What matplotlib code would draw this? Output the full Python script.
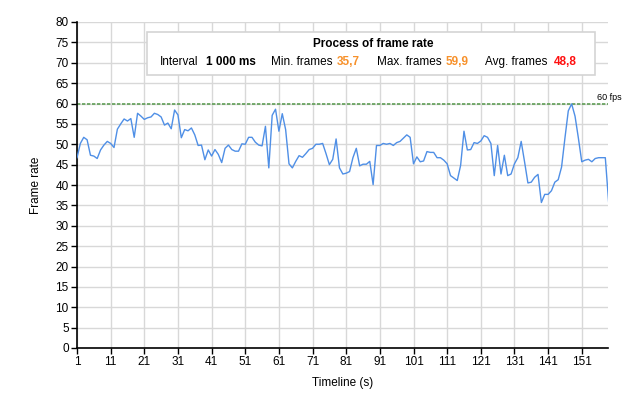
import matplotlib
matplotlib.use('agg')
from matplotlib import pyplot as plt
from matplotlib.patches import Rectangle
import numpy as np

# Frame rate per second of the timeline
frame_rate = [
    46.7, 50.2, 51.7, 51.1, 47.3, 47.1, 46.5, 48.6, 49.8, 50.7,
    50.2, 49.2, 53.7, 55.0, 56.2, 55.7, 56.3, 51.7, 57.6, 56.9,
    56.1, 56.5, 56.7, 57.6, 57.3, 56.7, 54.7, 55.2, 53.8, 58.4,
    57.2, 51.6, 53.6, 53.3, 54.0, 52.3, 49.7, 49.8, 46.2, 48.6,
    47.1, 48.7, 47.5, 45.5, 49.0, 49.8, 48.7, 48.3, 48.3, 50.1,
    50.0, 51.7, 51.7, 50.5, 49.8, 49.6, 54.4, 44.2, 57.1, 58.6,
    53.2, 57.5, 53.6, 45.2, 44.2, 45.8, 47.2, 46.8, 47.7, 48.7,
    49.0, 50.0, 50.0, 50.2, 47.7, 45.0, 46.3, 51.3, 44.2, 42.7,
    42.9, 43.3, 46.7, 49.0, 44.7, 45.1, 45.1, 45.8, 40.1, 49.7,
    49.7, 50.2, 50.0, 50.2, 49.7, 50.4, 50.7, 51.5, 52.3, 51.7,
    45.2, 46.9, 45.7, 45.9, 48.2, 48.0, 48.0, 46.7, 46.7, 46.1,
    45.2, 42.3, 41.7, 41.1, 44.8, 53.2, 48.6, 48.7, 50.4, 50.2,
    50.8, 52.1, 51.7, 50.2, 42.3, 49.7, 42.7, 47.3, 42.3, 42.7,
    45.2, 46.7, 50.7, 45.7, 40.5, 40.7, 41.9, 42.6, 35.7, 37.7,
    37.7, 38.6, 40.7, 41.3, 44.4, 51.5, 58.2, 59.9, 56.9, 51.5,
    45.7, 46.1, 46.3, 45.7, 46.5, 46.7, 46.7, 46.7, 35.7,
]
seconds = np.arange(1, len(frame_rate) + 1)
target_fps = 60

interval_text = '1 000 ms'
min_text = '35,7'
max_text = '59,9'
avg_text = '48,8'

W, H = 628, 404
plt.rcParams['font.family'] = ['Liberation Sans', 'DejaVu Sans']
fig = plt.figure(figsize=(W / 100, H / 100), dpi=100)
fig.patch.set_facecolor('white')
ax = fig.add_axes([77 / W, 1 - 348 / H, (608 - 77) / W, (348 - 22) / H])

ax.plot(seconds, frame_rate, color='#4f8fe6', lw=1.0, zorder=3)
ax.axhline(target_fps, color='#5f9e55', lw=1.2, ls=(0, (2, 1)), zorder=2)

ax.set_xlim(1, 158.8)
ax.set_ylim(0, 80)
ax.set_xticks(np.arange(1, 152, 10))
ax.set_yticks(np.arange(0, 81, 5))
ax.grid(True, color='#d8d8d8', lw=1.0)
ax.set_axisbelow(True)
for side in ('top', 'right'):
    ax.spines[side].set_visible(False)
for side in ('left', 'bottom'):
    ax.spines[side].set_color('black')
    ax.spines[side].set_linewidth(1.2)
ax.tick_params(length=4, width=1, pad=2, labelsize=8.5, colors='black')
ax.set_xlabel('Timeline (s)', fontsize=8.5, labelpad=6)
ax.set_ylabel('Frame rate', fontsize=8.5, labelpad=10)


def fx(px):
    return px / W


def fy(py):
    return 1 - py / H


fig.text(fx(622), fy(97), '60 fps', fontsize=6.5, ha='right', va='center')

box = Rectangle((fx(147), fy(75)), (595 - 147) / W, (75 - 32) / H,
                transform=fig.transFigure, facecolor='white',
                edgecolor='#d4d4d4', lw=1.2, zorder=5)
fig.add_artist(box)
fig.text(fx(373), fy(44), 'Process of frame rate', fontsize=8.5,
         fontweight='bold', ha='center', va='center', zorder=6)

row = [
    (160, 'Interval', 'normal', 'black'),
    (206, interval_text, 'bold', 'black'),
    (271, 'Min. frames', 'normal', 'black'),
    (337, min_text, 'bold', '#f7912b'),
    (377, 'Max. frames', 'normal', 'black'),
    (446, max_text, 'bold', '#f7912b'),
    (485, 'Avg. frames', 'normal', 'black'),
    (554, avg_text, 'bold', '#ff1010'),
]
for px, label, weight, color in row:
    fig.text(fx(px), fy(62), label, fontsize=8.5, fontweight=weight,
             color=color, ha='left', va='center', zorder=6)

fig.savefig('out.png', dpi=100)
